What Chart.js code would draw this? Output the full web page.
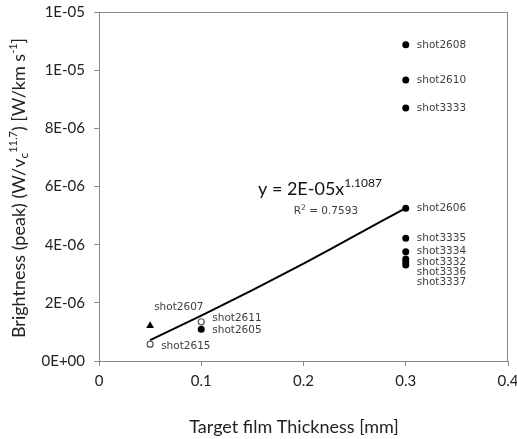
<!DOCTYPE html>
<html>
<head>
<meta charset="utf-8">
<script src="https://cdn.jsdelivr.net/npm/chart.js@4.4.1/dist/chart.umd.min.js"></script>
<style>
  html, body { margin: 0; padding: 0; background: #fff; }
  #wrap { width: 517px; height: 439px; }
</style>
</head>
<body>
<div id="wrap"><canvas id="chart" width="517" height="439"></canvas></div>
<script>
// data
const filledX = [0.3, 0.3, 0.3, 0.3, 0.3, 0.3, 0.3, 0.3, 0.3, 0.1];
const filledY = [1.087e-5, 9.66e-6, 8.70e-6, 5.25e-6, 4.22e-6, 3.76e-6, 3.51e-6, 3.40e-6, 3.30e-6, 1.09e-6];
const filledLabels = ["shot2608", "shot2610", "shot3333", "shot2606", "shot3335",
  "shot3334", "shot3332", "shot3336", "shot3337", "shot2605"];

const openX = [0.1, 0.05];
const openY = [1.35e-6, 5.8e-7];
const openLabels = ["shot2611", "shot2615"];

const triX = [0.05];
const triY = [1.21e-6];
const triLabels = ["shot2607"];

// power trendline
const fitX = [0.05, 0.1, 0.15, 0.2, 0.25, 0.3];
const fitY = [7.2e-7, 1.56e-6, 2.44e-6, 3.35e-6, 4.30e-6, 5.26e-6];

const xTickLabels = ["0", "0.1", "0.2", "0.3", "0.4"];
const yTickLabels = ["0E+00", "2E-06", "4E-06", "6E-06", "8E-06", "1E-05", "1E-05"];

const AXIS_GRAY = "#8a8a8a";
const LABEL_FONT = "DejaVu Sans";
const MAIN_FONT = "Lato";

function pts(xs, ys) {
  return xs.map((x, i) => ({ x: x, y: ys[i] }));
}

// draws a run of text pieces with their own size / vertical shift
function drawRich(ctx, segs, x, y, align) {
  let total = 0;
  segs.forEach((s) => {
    ctx.font = `${s.size}px "${s.font}"`;
    s.w = ctx.measureText(s.text).width;
    total += s.w;
  });
  let cx = align === "center" ? x - total / 2 : x;
  ctx.textBaseline = "alphabetic";
  ctx.textAlign = "left";
  segs.forEach((s) => {
    ctx.font = `${s.size}px "${s.font}"`;
    ctx.fillStyle = s.color;
    ctx.fillText(s.text, cx, y + (s.dy || 0));
    cx += s.w;
  });
}

const labelOffsets = {
  shot2607: [4, -19],
  shot2611: [11, -3],
  shot2605: [11, 1],
  shot2615: [11, 2],
  shot3332: [11, 3],
  shot3336: [11, 10],
  shot3337: [11, 17],
};

const decorPlugin = {
  id: "decor",
  afterDatasetsDraw(chart) {
    const ctx = chart.ctx;
    const area = chart.chartArea;
    const xs = chart.scales.x;
    const ys = chart.scales.y;
    ctx.save();

    // frame round the plot area
    ctx.strokeStyle = AXIS_GRAY;
    ctx.lineWidth = 1;
    ctx.strokeRect(Math.round(area.left) + 0.5, Math.round(area.top) + 0.5,
      Math.round(area.right - area.left) - 1, Math.round(area.bottom - area.top));

    // point labels
    ctx.font = `10.5px "${LABEL_FONT}"`;
    ctx.fillStyle = "#404040";
    ctx.textAlign = "left";
    ctx.textBaseline = "middle";
    chart.data.datasets.forEach((ds, di) => {
      if (!ds.pointNames) return;
      const meta = chart.getDatasetMeta(di);
      meta.data.forEach((el, i) => {
        const name = ds.pointNames[i];
        const off = labelOffsets[name] || [11, 0];
        ctx.fillText(name, el.x + off[0], el.y + off[1]);
      });
    });

    // trendline equation
    const ex = xs.getPixelForValue(0.1555);
    const ey = ys.getPixelForValue(5.7e-6);
    drawRich(ctx, [
      { text: "y = 2E-05x", size: 18, font: MAIN_FONT, color: "#111" },
      { text: "1.1087", size: 12, font: MAIN_FONT, color: "#111", dy: -8 },
    ], ex, ey, "left");
    const rx = xs.getPixelForValue(0.1905);
    const ry = ys.getPixelForValue(5.05e-6);
    drawRich(ctx, [
      { text: "R", size: 10.5, font: LABEL_FONT, color: "#404040" },
      { text: "2", size: 7.5, font: LABEL_FONT, color: "#404040", dy: -4 },
      { text: " = 0.7593", size: 10.5, font: LABEL_FONT, color: "#404040" },
    ], rx, ry, "left");

    // axis titles
    drawRich(ctx, [
      { text: "Target film Thickness [mm]", size: 18, font: MAIN_FONT, color: "#222" },
    ], 294, 433, "center");

    ctx.translate(25, 188);
    ctx.rotate(-Math.PI / 2);
    drawRich(ctx, [
      { text: "Brightness (peak) (W/v", size: 18, font: MAIN_FONT, color: "#222" },
      { text: "c", size: 12, font: MAIN_FONT, color: "#222", dy: 3 },
      { text: "11.7", size: 11, font: MAIN_FONT, color: "#222", dy: -8 },
      { text: ") [W/km s", size: 18, font: MAIN_FONT, color: "#222" },
      { text: "-1", size: 11, font: MAIN_FONT, color: "#222", dy: -8 },
      { text: "]", size: 18, font: MAIN_FONT, color: "#222" },
    ], 0, 0, "center");
    ctx.restore();
  },
};

const chart = new Chart(document.getElementById("chart"), {
  type: "scatter",
  data: {
    datasets: [
      {
        label: "filled",
        data: pts(filledX, filledY),
        pointNames: filledLabels,
        pointStyle: "circle",
        pointRadius: 3.5,
        backgroundColor: "#000",
        borderColor: "#000",
        borderWidth: 0,
        order: 1,
      },
      {
        label: "open",
        data: pts(openX, openY),
        pointNames: openLabels,
        pointStyle: "circle",
        pointRadius: 3,
        backgroundColor: "#fff",
        borderColor: "#555",
        borderWidth: 1.2,
        order: 1,
      },
      {
        label: "triangle",
        data: pts(triX, triY),
        pointNames: triLabels,
        pointStyle: "triangle",
        pointRadius: 4.5,
        backgroundColor: "#000",
        borderColor: "#000",
        borderWidth: 0,
        order: 1,
      },
      {
        label: "fit",
        data: pts(fitX, fitY),
        showLine: true,
        borderColor: "#000",
        borderWidth: 2,
        pointRadius: 0,
        tension: 0.3,
        order: 10,
      },
    ],
  },
  options: {
    responsive: false,
    animation: false,
    layout: { padding: { left: 0, right: 9, top: 12, bottom: 0 } },
    plugins: {
      legend: { display: false },
      tooltip: { enabled: false },
    },
    scales: {
      x: {
        type: "linear",
        min: 0,
        max: 0.4,
        afterFit: (s) => {
          s.height = 78;
          s.paddingLeft = 0;
          s.paddingRight = 0;
        },
        afterBuildTicks: (s) => { s.ticks = xTickLabels.map((_, i) => ({ value: i * 0.1 })); },
        ticks: {
          callback: (v, i) => xTickLabels[i],
          font: { family: MAIN_FONT, size: 15 },
          color: "#222",
          padding: 6,
          maxRotation: 0,
        },
        grid: { drawOnChartArea: false, drawTicks: true, tickLength: 5, color: AXIS_GRAY },
        border: { color: AXIS_GRAY },
      },
      y: {
        type: "linear",
        min: 0,
        max: 1.2e-5,
        afterFit: (s) => {
          s.width = 99;
          s.paddingTop = 0;
          s.paddingBottom = 0;
        },
        afterBuildTicks: (s) => { s.ticks = yTickLabels.map((_, i) => ({ value: i * 2e-6 })); },
        ticks: {
          callback: (v, i) => yTickLabels[i],
          font: { family: MAIN_FONT, size: 15 },
          color: "#222",
          padding: 9,
        },
        grid: { drawOnChartArea: false, drawTicks: true, tickLength: 5, color: AXIS_GRAY },
        border: { color: AXIS_GRAY },
      },
    },
  },
  plugins: [decorPlugin],
});
</script>
</body>
</html>
